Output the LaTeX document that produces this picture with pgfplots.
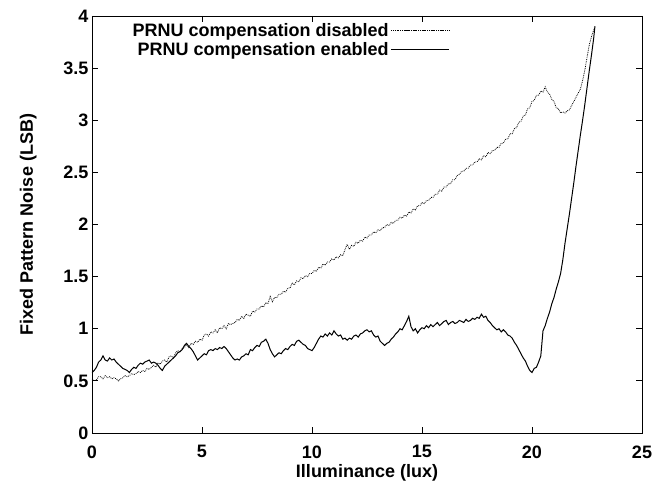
\documentclass[border=0pt]{standalone}
\usepackage{fontspec}
\setmainfont{Liberation Sans}
\usepackage{pgfplots}
\usepackage{pgfplotstable}
\pgfplotsset{compat=1.18}

% PRNU compensation disabled (dotted)
\pgfplotstableread{
x y
0.0 0.52
0.1 0.50
0.2 0.51
0.3 0.54
0.4 0.54
0.5 0.52
0.6 0.55
0.7 0.53
0.8 0.54
0.9 0.52
1.0 0.53
1.1 0.52
1.2 0.50
1.3 0.52
1.4 0.53
1.5 0.55
1.6 0.54
1.7 0.55
1.8 0.57
1.9 0.56
2.0 0.57
2.1 0.59
2.2 0.58
2.3 0.60
2.4 0.59
2.5 0.62
2.6 0.61
2.7 0.63
2.8 0.65
2.9 0.63
3.0 0.67
3.1 0.66
3.2 0.69
3.3 0.70
3.4 0.68
3.5 0.73
3.6 0.74
3.7 0.72
3.8 0.77
3.9 0.79
4.0 0.78
4.1 0.81
4.2 0.82
4.3 0.85
4.4 0.82
4.5 0.86
4.6 0.85
4.7 0.88
4.8 0.87
4.9 0.90
5.0 0.89
5.1 0.94
5.2 0.95
5.3 0.93
5.4 0.97
5.5 0.96
5.6 0.99
5.7 0.96
5.8 1.01
5.9 1.00
6.0 1.03
6.1 1.00
6.2 1.05
6.3 1.04
6.4 1.05
6.5 1.06
6.6 1.09
6.7 1.08
6.8 1.12
6.9 1.10
7.0 1.14
7.1 1.13
7.2 1.12
7.3 1.17
7.4 1.16
7.5 1.19
7.6 1.19
7.7 1.22
7.8 1.21
7.9 1.25
8.0 1.24
8.1 1.31
8.2 1.26
8.3 1.30
8.4 1.30
8.5 1.33
8.6 1.33
8.7 1.36
8.8 1.35
8.9 1.39
9.0 1.39
9.1 1.44
9.2 1.42
9.3 1.46
9.4 1.45
9.5 1.49
9.6 1.48
9.7 1.51
9.8 1.50
9.9 1.53
10.0 1.53
10.1 1.56
10.2 1.55
10.3 1.59
10.4 1.58
10.5 1.62
10.6 1.61
10.7 1.64
10.8 1.64
10.9 1.67
11.0 1.66
11.1 1.69
11.2 1.68
11.3 1.71
11.4 1.70
11.5 1.76
11.6 1.81
11.7 1.76
11.8 1.80
11.9 1.79
12.0 1.83
12.1 1.82
12.2 1.85
12.3 1.84
12.4 1.88
12.5 1.87
12.6 1.90
12.7 1.90
12.8 1.93
12.9 1.92
13.0 1.95
13.1 1.94
13.2 1.97
13.3 1.97
13.4 2.00
13.5 1.99
13.6 2.02
13.7 2.01
13.8 2.04
13.9 2.04
14.0 2.07
14.1 2.06
14.2 2.09
14.3 2.08
14.4 2.12
14.5 2.11
14.6 2.15
14.7 2.14
14.8 2.18
14.9 2.18
15.0 2.21
15.1 2.20
15.2 2.23
15.3 2.23
15.4 2.26
15.5 2.26
15.6 2.29
15.7 2.29
15.8 2.33
15.9 2.32
16.0 2.36
16.1 2.36
16.2 2.39
16.3 2.39
16.4 2.43
16.5 2.43
16.6 2.47
16.7 2.48
16.8 2.51
16.9 2.51
17.0 2.54
17.1 2.54
17.2 2.57
17.3 2.57
17.4 2.60
17.5 2.60
17.6 2.63
17.7 2.62
17.8 2.66
17.9 2.65
18.0 2.69
18.1 2.68
18.2 2.71
18.3 2.71
18.4 2.74
18.5 2.74
18.6 2.78
18.7 2.78
18.8 2.82
18.9 2.82
19.0 2.87
19.1 2.87
19.2 2.92
19.3 2.93
19.4 2.98
19.5 2.99
19.6 3.04
19.7 3.05
19.8 3.11
19.9 3.12
20.0 3.18
20.1 3.19
20.2 3.24
20.3 3.24
20.4 3.28
20.5 3.27
20.6 3.32
20.7 3.27
20.8 3.25
20.9 3.20
21.0 3.18
21.1 3.12
21.2 3.11
21.3 3.07
21.4 3.08
21.5 3.07
21.6 3.09
21.7 3.10
21.8 3.14
21.9 3.18
22.0 3.22
22.1 3.26
22.2 3.30
22.3 3.38
22.4 3.48
22.5 3.60
22.6 3.72
22.7 3.80
22.86 3.90
}\disabled

% PRNU compensation enabled (solid)
\pgfplotstableread{
x y
0.0 0.58
0.1 0.60
0.2 0.63
0.3 0.68
0.4 0.70
0.5 0.74
0.6 0.70
0.7 0.69
0.8 0.72
0.9 0.70
1.0 0.71
1.1 0.68
1.2 0.66
1.3 0.64
1.4 0.62
1.5 0.61
1.6 0.60
1.7 0.58
1.8 0.61
1.9 0.63
2.0 0.62
2.1 0.65
2.2 0.67
2.3 0.66
2.4 0.68
2.5 0.69
2.6 0.70
2.7 0.67
2.8 0.68
2.9 0.67
3.0 0.65
3.1 0.62
3.2 0.60
3.3 0.64
3.4 0.66
3.5 0.68
3.6 0.70
3.7 0.72
3.8 0.74
3.9 0.77
4.0 0.78
4.1 0.80
4.2 0.84
4.3 0.86
4.4 0.83
4.5 0.81
4.6 0.78
4.7 0.74
4.8 0.70
4.9 0.72
5.0 0.74
5.1 0.76
5.2 0.75
5.3 0.79
5.4 0.80
5.5 0.79
5.6 0.81
5.7 0.80
5.8 0.82
5.9 0.81
6.0 0.83
6.1 0.81
6.2 0.78
6.3 0.75
6.4 0.72
6.5 0.70
6.6 0.71
6.7 0.70
6.8 0.73
6.9 0.74
7.0 0.76
7.1 0.75
7.2 0.80
7.3 0.79
7.4 0.82
7.5 0.84
7.6 0.83
7.7 0.87
7.8 0.88
7.9 0.90
8.0 0.86
8.1 0.80
8.2 0.76
8.3 0.73
8.4 0.75
8.5 0.77
8.6 0.76
8.7 0.79
8.8 0.81
8.9 0.80
9.0 0.83
9.1 0.85
9.2 0.84
9.3 0.88
9.4 0.89
9.5 0.87
9.6 0.85
9.7 0.84
9.8 0.81
9.9 0.80
10.0 0.79
10.1 0.82
10.2 0.86
10.3 0.90
10.4 0.93
10.5 0.92
10.6 0.95
10.7 0.93
10.8 0.96
10.9 0.94
11.0 0.98
11.1 0.95
11.2 0.93
11.3 0.94
11.4 0.90
11.5 0.91
11.6 0.89
11.7 0.91
11.8 0.90
11.9 0.93
12.0 0.94
12.1 0.92
12.2 0.95
12.3 0.96
12.4 0.98
12.5 0.99
12.6 0.97
12.7 0.98
12.8 0.94
12.9 0.92
13.0 0.93
13.1 0.88
13.2 0.86
13.3 0.84
13.4 0.86
13.5 0.87
13.6 0.90
13.7 0.92
13.8 0.95
13.9 0.97
14.0 1.00
14.1 0.99
14.2 1.03
14.3 1.07
14.4 1.12
14.5 1.02
14.6 0.98
14.7 1.00
14.8 0.96
14.9 0.99
15.0 1.01
15.1 1.00
15.2 1.03
15.3 1.01
15.4 1.04
15.5 1.02
15.6 1.04
15.7 1.06
15.8 1.03
15.9 1.05
16.0 1.07
16.1 1.08
16.2 1.04
16.3 1.06
16.4 1.07
16.5 1.05
16.6 1.06
16.7 1.08
16.8 1.07
16.9 1.06
17.0 1.09
17.1 1.07
17.2 1.08
17.3 1.10
17.4 1.09
17.5 1.11
17.6 1.10
17.7 1.14
17.8 1.11
17.9 1.12
18.0 1.08
18.1 1.06
18.2 1.03
18.3 1.01
18.4 0.99
18.5 1.00
18.6 0.97
18.7 0.99
18.8 0.97
18.9 0.94
19.0 0.93
19.1 0.91
19.2 0.87
19.3 0.84
19.4 0.80
19.5 0.76
19.6 0.72
19.7 0.69
19.8 0.64
19.9 0.60
20.0 0.58
20.1 0.62
20.2 0.63
20.3 0.68
20.4 0.74
20.5 0.98
20.6 1.03
20.7 1.10
20.8 1.16
20.9 1.24
21.0 1.30
21.1 1.38
21.2 1.45
21.3 1.53
21.4 1.66
21.5 1.82
21.6 1.96
21.7 2.10
21.8 2.25
21.9 2.40
22.0 2.56
22.1 2.71
22.2 2.86
22.3 3.00
22.4 3.15
22.5 3.31
22.6 3.47
22.7 3.62
22.8 3.78
22.86 3.90
}\enabled

\begin{document}
\begin{tikzpicture}
\useasboundingbox (-92bp,-56bp) rectangle (570bp,433bp);
\begin{axis}[
    scale only axis,
    width=550bp, height=417bp,
    xmin=0, xmax=25, ymin=0, ymax=4,
    xtick={0,5,...,25},
    ytick={0,0.5,...,4},
    tick align=inside,
    major tick length=6bp,
    axis line style={line width=0.8bp},
    tick style={line width=0.8bp, black},
    font=\fontsize{18bp}{21bp}\selectfont\bfseries,
    /pgf/number format/assume math mode=true,
    yticklabel style={/pgf/number format/.cd, fixed, precision=1},
    xticklabel style={yshift=-9bp},
    xlabel={Illuminance (lux)},
    ylabel={Fixed Pattern Noise (LSB)},
    every axis x label/.style={at={(axis description cs:0.5,-0.096)}, anchor=center},
    every axis y label/.style={at={(axis description cs:-0.116,0.5)}, rotate=90, anchor=center},
    legend plot pos=right,
    legend cell align=right,
    legend style={draw=none, fill=none, at={(rel axis cs:0.656,0.992)}, anchor=north east,
        row sep=0bp, font=\fontsize{18bp}{21bp}\selectfont\bfseries},
    legend image code/.code={\path (0bp,0bp) -- (58bp,0bp);
        \draw[#1] (11bp,0bp) -- (58bp,0bp);},
]
\addplot[black, densely dotted, line width=0.8bp] table {\disabled};
\addlegendentry{PRNU compensation disabled}
\addplot[black, line width=1bp] table {\enabled};
\addlegendentry{PRNU compensation enabled}
\end{axis}
\end{tikzpicture}
\end{document}
